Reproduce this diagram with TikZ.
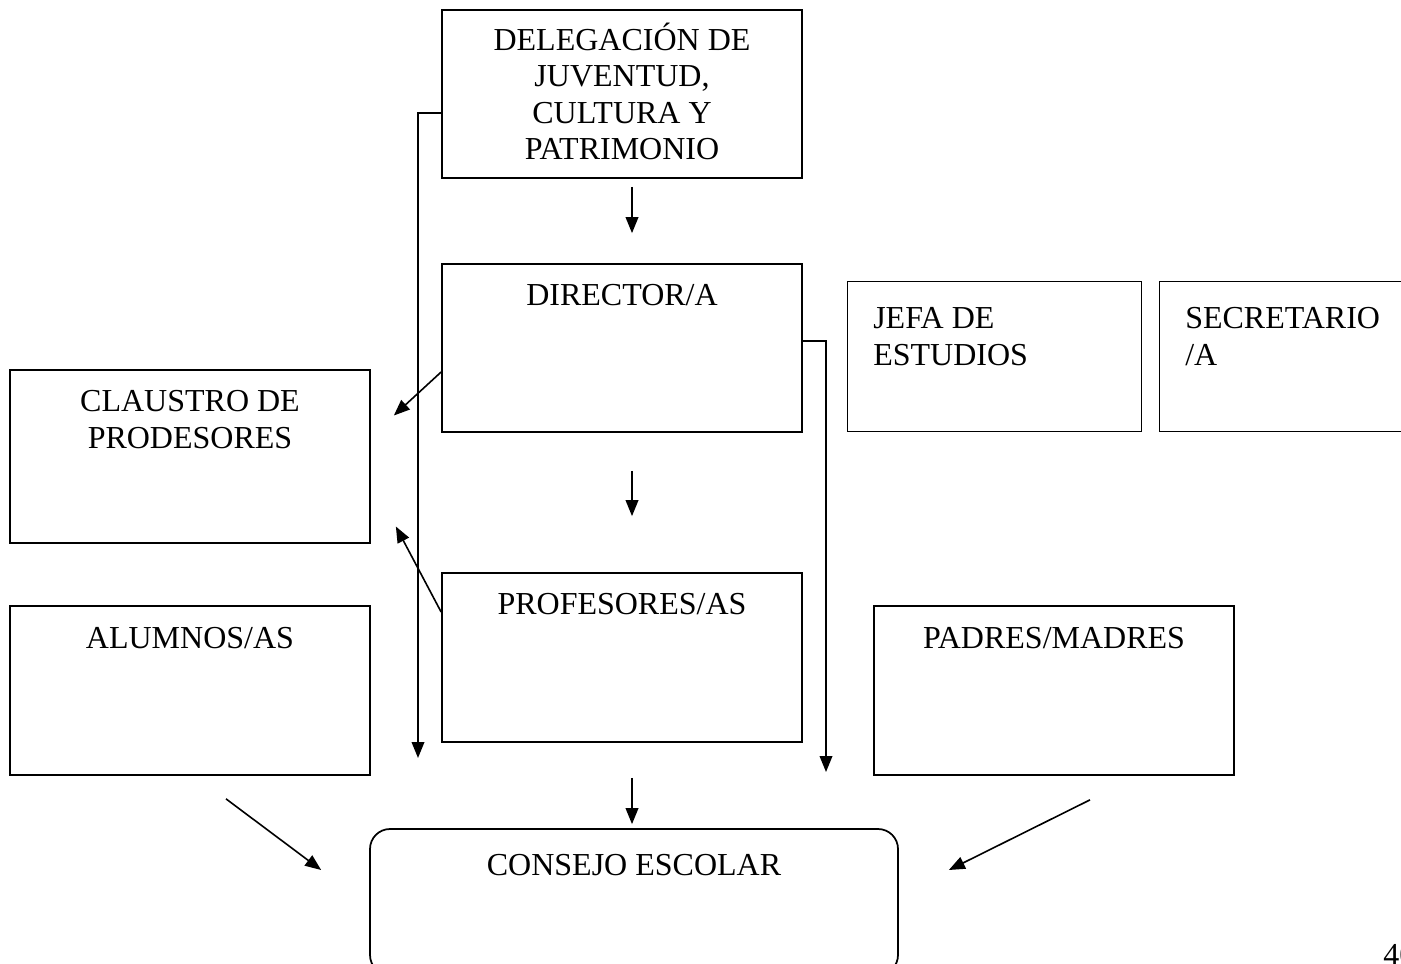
\documentclass[tikz,border=0pt]{standalone}
\usepackage{fontspec}
\setmainfont{Liberation Serif}
\usetikzlibrary{fit,arrows.meta,calc}
\begin{document}
\begin{tikzpicture}[x=0.75pt,y=-0.75pt,
 box/.style={draw, line width=1.3pt, inner sep=0pt},
 thinbox/.style={draw, line width=0.7pt, inner sep=0pt},
 lbl/.style={font=\fontsize{24}{27.4}\selectfont, inner sep=0pt, align=center, anchor=base},
 lbll/.style={font=\fontsize{24}{27.4}\selectfont, inner sep=0pt, align=left, anchor=base west},
 conn/.style={line width=1.2pt},
 arr/.style={conn, -{Triangle[length=12pt,width=9.5pt]}}]
\useasboundingbox (0,0) rectangle (1401,963);
\clip (0,0) rectangle (1401,963);
% boxes
\node[box, fit={(442,10)(802,178)}] (del) {};
\node[box, fit={(442,264)(802,432)}] (dir) {};
\node[thinbox, fit={(847,281)(1141,431)}] (jefa) {};
\node[thinbox, fit={(1159,281)(1420,431)}] (sec) {};
\node[box, fit={(10,370)(370,543)}] (cla) {};
\node[box, fit={(10,606)(370,775)}] (alu) {};
\node[box, fit={(442,573)(802,742)}] (pro) {};
\node[box, fit={(874,606)(1234,775)}] (pad) {};
\node[box, rounded corners=15pt, fit={(370,829)(898,975)}] (con) {};
% labels (base anchor = baseline of last line)
\node[lbl] (tdel) at (622,160) {DELEGACIÓN DE\\JUVENTUD,\\CULTURA Y\\PATRIMONIO};
\node[lbl] (tdir) at (622,305) {DIRECTOR/A};
\node[lbll] (tjefa) at (873,365) {JEFA DE\\ESTUDIOS};
\node[lbll] (tsec) at (1185,365) {SECRETARIO\\/A};
\node[lbl] (tcla) at (190,448) {CLAUSTRO DE\\PRODESORES};
\node[lbl] (talu) at (190,648) {ALUMNOS/AS};
\node[lbl] (tpro) at (622,614) {PROFESORES/AS};
\node[lbl] (tpad) at (1054,648) {PADRES/MADRES};
\node[lbl] (tcon) at (634,875) {CONSEJO ESCOLAR};
\node[lbll] (page) at (1383,965) {40};
% connectors
\coordinate (e1) at (418,758);
\coordinate (e2) at (826,772);
\draw[arr] ($(del.south)+(10,8)$) -- ($(dir.north)+(10,-30)$);
\draw[arr] (del.west |- 0,113) -- (e1 |- 0,113) -- (e1);
\draw[arr] (dir.east |- 0,341) -- (e2 |- 0,341) -- (e2);
\draw[arr] (dir.west |- 0,372) -- ($(cla.east)+(23,-41)$);
\draw[arr] (pro.west |- 0,612) -- ($(cla.east)+(25,70)$);
\draw[arr] ($(dir.south)+(10,38)$) -- ($(pro.north)+(10,-56)$);
\draw[arr] ($(pro.south)+(10,35)$) -- ($(con.north)+(-2,-4)$);
\draw[arr] ($(alu.south)+(36,23)$) -- ($(con.west)+(-48,-32)$);
\draw[arr] ($(pad.south)+(36,24)$) -- ($(con.east)+(50,-32)$);
\end{tikzpicture}
\end{document}
